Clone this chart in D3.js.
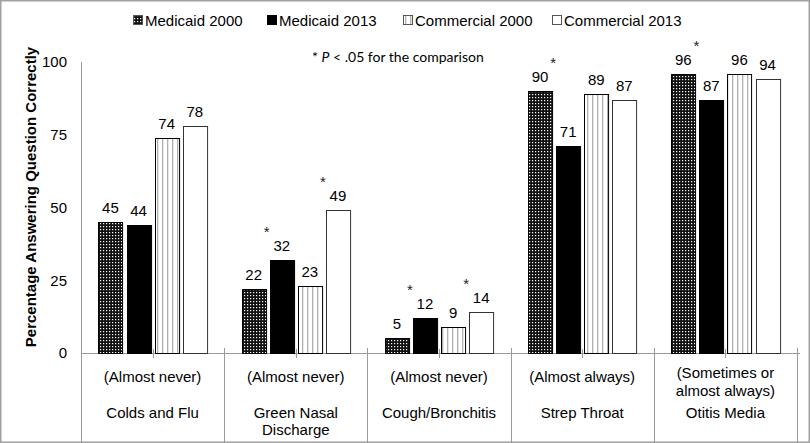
<!DOCTYPE html>
<html>
<head>
<meta charset="utf-8">
<script src="https://cdn.jsdelivr.net/npm/d3@7"></script>
<style>
  html, body { margin: 0; padding: 0; background: #fff; }
  svg { display: block; }
</style>
</head>
<body>
<div id="chart"></div>
<script>
// ---- data ----
const categories = ["Colds and Flu", "Green Nasal Discharge", "Cough/Bronchitis", "Strep Throat", "Otitis Media"];
const categoryLines = [["Colds and Flu"], ["Green Nasal", "Discharge"], ["Cough/Bronchitis"], ["Strep Throat"], ["Otitis Media"]];
const subtitleLines = [["(Almost never)"], ["(Almost never)"], ["(Almost never)"], ["(Almost always)"], ["(Sometimes or", "almost always)"]];
const seriesNames = ["Medicaid 2000", "Medicaid 2013", "Commercial 2000", "Commercial 2013"];
const medicaid2000 = [45, 22, 5, 90, 96];
const medicaid2013 = [44, 32, 12, 71, 87];
const commercial2000 = [74, 23, 9, 89, 96];
const commercial2013 = [78, 49, 14, 87, 94];
const sigMedicaid = [false, true, true, true, true];
const sigCommercial = [false, true, true, false, false];
const yTicks = [0, 25, 50, 75, 100];
const yTitle = "Percentage Answering Question Correctly";

const seriesValues = [medicaid2000, medicaid2013, commercial2000, commercial2013];

// ---- layout ----
const W = 810, H = 443;
const svg = d3.select("#chart").append("svg").attr("width", W).attr("height", H);
const defs = svg.append("defs");

// patterns
const pDots = defs.append("pattern").attr("id", "dots").attr("patternUnits", "userSpaceOnUse")
  .attr("width", 3).attr("height", 3);
pDots.append("rect").attr("width", 3).attr("height", 3).attr("fill", "#111");
pDots.append("rect").attr("x", 1).attr("y", 1).attr("width", 1.2).attr("height", 1.2).attr("fill", "#fff");

const pStripes = defs.append("pattern").attr("id", "stripes").attr("patternUnits", "userSpaceOnUse")
  .attr("width", 5).attr("height", 5);
pStripes.append("rect").attr("width", 5).attr("height", 5).attr("fill", "#fff");
pStripes.append("rect").attr("x", 2).attr("width", 1.3).attr("height", 5).attr("fill", "#b0b0b0");

const fills = ["url(#dots)", "#000", "url(#stripes)", "#fff"];

// frame
svg.append("rect").attr("x", 0.75).attr("y", 0.75).attr("width", W - 1.5).attr("height", H - 1.5)
  .attr("fill", "none").attr("stroke", "#a0a0a0").attr("stroke-width", 1.5);

const x0 = 81, x1 = 797, yTop = 62, yZero = 353;
const x = d3.scaleBand().domain(categories).range([x0, x1]).paddingInner(0).paddingOuter(0);
const xs = d3.scaleBand().domain(seriesNames).range([0, x.bandwidth()]).paddingInner(1/7).paddingOuter(0.62);
const y = d3.scaleLinear().domain([0, 100]).range([yZero, yTop]);

const font = "'Liberation Sans', Arial, sans-serif";

// y axis
const yAxis = d3.axisLeft(y).tickValues(yTicks).tickSize(0).tickPadding(14);
const gy = svg.append("g").attr("transform", `translate(${x0},0)`).call(yAxis);
gy.select(".domain").attr("stroke", "#9a9a9a");
gy.selectAll("text").attr("font-family", font).attr("font-size", 15).attr("fill", "#000");

// y title
svg.append("text")
  .attr("transform", `translate(36,197) rotate(-90)`)
  .attr("text-anchor", "middle")
  .attr("font-family", font).attr("font-size", 15).attr("font-weight", "bold")
  .text(yTitle);

// x axis line
svg.append("line").attr("x1", x0).attr("x2", x1 + 3).attr("y1", yZero + 0.5).attr("y2", yZero + 0.5)
  .attr("stroke", "#9a9a9a");

// category separators (table cells)
const bounds = categories.map(c => x(c)).concat([x1]);
svg.selectAll("line.sep").data(bounds).enter().append("line")
  .attr("class", "sep")
  .attr("x1", d => Math.round(d) + 0.5).attr("x2", d => Math.round(d) + 0.5)
  .attr("y1", (d, i) => i === 0 ? yTop : yZero - 5).attr("y2", H)
  .attr("stroke", "#9a9a9a");

// center ticks
svg.selectAll("line.ctick").data(categories).enter().append("line")
  .attr("class", "ctick")
  .attr("x1", d => Math.round(x(d) + x.bandwidth() / 2) + 0.5)
  .attr("x2", d => Math.round(x(d) + x.bandwidth() / 2) + 0.5)
  .attr("y1", yZero - 4).attr("y2", yZero + 5)
  .attr("stroke", "#9a9a9a");

// category labels
categories.forEach((c, i) => {
  const cx = x(c) + x.bandwidth() / 2;
  const sub = subtitleLines[i];
  const subStart = sub.length === 1 ? 382 : 378;
  sub.forEach((t, k) => {
    svg.append("text").attr("x", cx).attr("y", subStart + k * 18)
      .attr("text-anchor", "middle").attr("font-family", font).attr("font-size", 15)
      .text(t);
  });
  categoryLines[i].forEach((t, k) => {
    svg.append("text").attr("x", cx).attr("y", 418 + k * 17)
      .attr("text-anchor", "middle").attr("font-family", font).attr("font-size", 15)
      .text(t);
  });
});

// bars
const bars = [];
seriesNames.forEach((s, si) => {
  categories.forEach((c, ci) => {
    bars.push({ s, si, c, ci, v: seriesValues[si][ci] });
  });
});

svg.selectAll("rect.bar").data(bars).enter().append("rect")
  .attr("class", "bar")
  .attr("x", d => Math.round(x(d.c) + xs(d.s)) + 0.5)
  .attr("y", d => Math.round(y(d.v)) + 0.5)
  .attr("width", xs.bandwidth())
  .attr("height", d => yZero - Math.round(y(d.v)))
  .attr("fill", d => fills[d.si])
  .attr("stroke", d => d.si === 3 ? "#333" : "#000")
  .attr("stroke-width", 1);

// value labels
svg.selectAll("text.val").data(bars).enter().append("text")
  .attr("class", "val")
  .attr("x", d => x(d.c) + xs(d.s) + xs.bandwidth() / 2)
  .attr("y", d => y(d.v) - 9)
  .attr("text-anchor", "middle").attr("font-family", font).attr("font-size", 15)
  .text(d => d.v);

// significance asterisks
function addStar(ci, a, b, sIdx) {
  const top = Math.max(seriesValues[a][ci], seriesValues[b][ci]);
  const bx = x(categories[ci]) + xs(seriesNames[sIdx]) + xs.bandwidth() / 2 - 15;
  svg.append("text").attr("x", bx).attr("y", y(top) - 9 - 14)
    .attr("text-anchor", "middle").attr("font-family", font).attr("font-size", 15)
    .attr("fill", "#222")
    .text("*");
}
categories.forEach((c, ci) => {
  if (sigMedicaid[ci]) addStar(ci, 0, 1, 1);
  if (sigCommercial[ci]) addStar(ci, 2, 3, 3);
});

// legend
const legendX = [133, 267, 403, 552];
seriesNames.forEach((s, i) => {
  const g = svg.append("g").attr("transform", `translate(${legendX[i]},20)`);
  g.append("rect").attr("x", 0.5).attr("y", -4.5).attr("width", 9).attr("height", 9)
    .attr("fill", fills[i]).attr("stroke", i === 1 ? "#000" : "#555");
  g.append("text").attr("x", 12).attr("y", 6)
    .attr("font-family", font).attr("font-size", 15).text(s);
});

// annotation
const ann = svg.append("text").attr("x", 312).attr("y", 62)
  .attr("font-family", "Lato, 'Open Sans', sans-serif").attr("font-size", 14);
ann.append("tspan").text("* ");
ann.append("tspan").attr("font-style", "italic").text("P");
ann.append("tspan").text(" < .05 for the comparison");
</script>
</body>
</html>
